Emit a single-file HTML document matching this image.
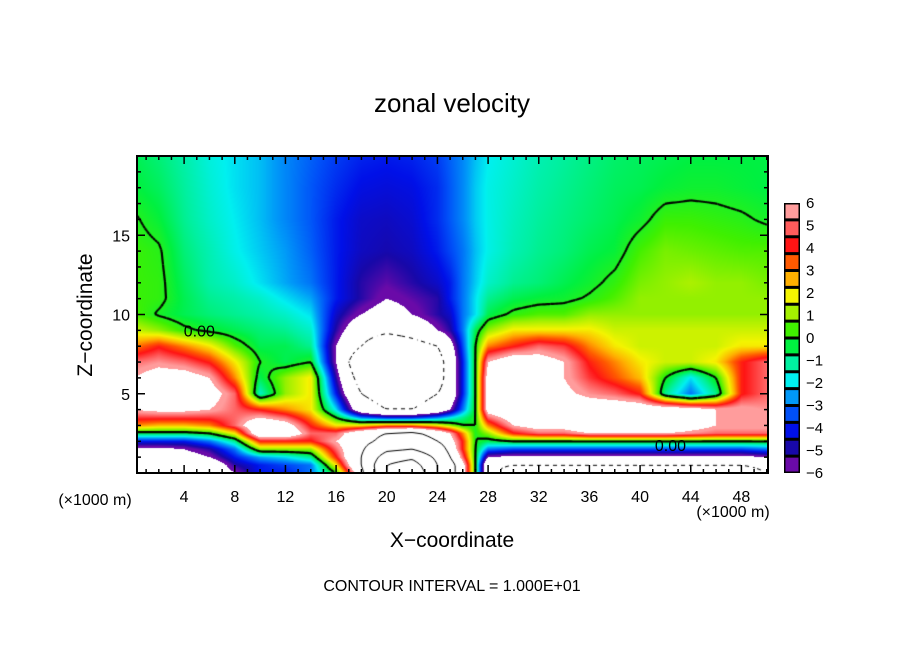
<!DOCTYPE html>
<html><head><meta charset="utf-8"><style>
html,body{margin:0;padding:0;background:#fff;width:904px;height:654px;overflow:hidden}
#wrap{position:relative;width:904px;height:654px}
canvas{position:absolute;left:0;top:0}
svg{position:absolute;left:0;top:0}
text{font-family:"Liberation Sans",sans-serif;fill:#000}
</style></head><body>
<div id="wrap">
<canvas id="cv" width="904" height="654"></canvas>
<svg id="sv" width="904" height="654">
<text x="452" y="112" font-size="26" text-anchor="middle">zonal velocity</text>
<text x="452" y="547" font-size="21" text-anchor="middle">X−coordinate</text>
<text transform="translate(92,315) rotate(-90)" font-size="21" text-anchor="middle">Z−coordinate</text>
<text x="95" y="505" font-size="16" text-anchor="middle">(×1000 m)</text>
<text x="733" y="517" font-size="16" text-anchor="middle">(×1000 m)</text>
<text x="452" y="591" font-size="16" text-anchor="middle">CONTOUR INTERVAL = 1.000E+01</text>
<g id="ticks"></g>
<g id="cbar"></g>
</svg>
</div>
<script>
const xs=[0,2,4,6,8,10,12,14,16,18,20,22,24,25,26,27,28,30,32,34,36,38,40,42,44,46,48,50];
const zs=[0,0.5,1,1.5,2,2.5,3,3.5,4,5,6,7,8,9,10,11,12,14,16,18,20];
const u=[
[-8,-8,-8,-8,-6,-4,-4,-3,0,8,30,40,20,12,7,0,-9,-12,-12,-12,-12,-12,-12,-12,-12,-12,-12,-10],
[-8,-8,-8,-8,-5,-4,-3.5,-3,2,10,30,35,20,12,7,0,-9,-10,-10,-10,-10,-10,-10,-10,-10,-10,-10,-9],
[-7,-7,-7,-6,-4,-2.5,-2,-1,4,10,25,28,18,10,5,0,-6,-6.5,-6.5,-6.5,-6.5,-6.5,-6.5,-6.5,-6.5,-6.5,-6.5,-6],
[-6.5,-6.5,-6,-5,-3,1,1,1,5,9,18,20,14,8,4,0,-3,-3.5,-3.5,-3.5,-3.5,-3.5,-3.5,-3.5,-3.5,-3.5,-3.5,-3],
[-4,-4,-4,-3,-1,4,4,4,6,8,12,14,10,7,4,0,-0.5,0,0,0,0,0,0,0,0,0,0,0],
[-0.5,-0.5,-0.5,0,2,8,8,5,5,8,10,11,8,6,3,0,1,4,5,5,6,6,6,6,5.5,5,5,5],
[3,2.5,2.5,3,5,8,7,4,2,2,3,3,2,1,0,0,3,6,7,7,8,8,8,8,7,6,6,6],
[4.5,4.5,4.5,4.5,5,6,5,3,0,-3,-4,-4,-3,-2,-1,0,5,7,8,8,8,8,8,8,7,6,6,6],
[6,6.5,6.5,6,5,4,3,2,-2,-8,-10,-10,-8,-6,-3,0,7,8,8,8,7.5,7.5,7.5,7.5,7,6,6,5.5],
[7,8,8,7,5,-1.5,1,2,-4,-10,-12,-12,-10,-8,-4,0,7,9,8,6.5,5.5,5,4,-1,-3,-1,4,5],
[6,7,7,6,3,-0.5,1,2,-5,-12,-15,-15,-12,-8,-4,0,7,9,8,6,4.5,3.5,2.5,0,-2,0,4,5],
[5,5.5,5,4,2,0,-0.5,0,-6,-14,-18,-16,-12,-8,-4,0,6,7.5,7,6,4,3,2,1.5,1.5,2,4,5],
[3,4,3,2,0.5,-0.5,-0.5,-1,-6,-10,-14,-12,-10,-7,-3.5,0,3,4,5,4.5,3,2,1.5,1.5,1.5,1.5,2,2],
[1.5,1,0.2,-0.2,-0.5,-0.8,-1,-1.5,-5,-8,-9,-8,-6,-5,-3,-0.5,1,2,2,2,2,1.5,1.5,1.5,1.5,1.5,1.5,1.5],
[0.5,-0.1,-0.5,-0.8,-1,-1.2,-1.5,-2,-4.5,-6,-7,-6,-5,-4.5,-3,-2,-0.5,0.2,0.5,0.5,1,1,1,1,1,1,1,1],
[0.3,0.2,-0.5,-1,-1.2,-1.5,-2,-2.5,-4,-5,-6,-5.5,-5,-4,-3,-2,-1,-0.5,-0.3,-0.2,0.1,0.5,1,1,1,1,1,1],
[0.3,0.2,-0.6,-1.2,-1.5,-2,-2.5,-3,-4,-5,-5.5,-5,-4.5,-4,-3,-2.2,-1.5,-1,-0.8,-0.5,-0.2,0.2,0.8,1,1.2,1,1,0.8],
[0.3,0.1,-0.8,-1.3,-1.8,-2.2,-2.6,-3.2,-4,-4.6,-4.8,-4.6,-4,-3.5,-3,-2.3,-1.8,-1.3,-1,-0.8,-0.5,-0.3,0.4,0.8,0.7,0.6,0.5,0.5],
[0.1,-0.3,-1,-1.5,-1.9,-2.3,-2.8,-3.3,-4,-4.5,-4.6,-4.4,-3.8,-3.3,-2.8,-2.2,-1.8,-1.4,-1.1,-0.9,-0.7,-0.5,-0.2,0.3,0.3,0.2,0.1,-0.1],
[-0.3,-0.6,-1.1,-1.6,-2,-2.3,-2.8,-3.3,-3.8,-4.2,-4.3,-4.2,-3.8,-3.3,-2.8,-2.2,-1.8,-1.5,-1.2,-1,-0.8,-0.6,-0.5,-0.3,-0.2,-0.2,-0.3,-0.4],
[-0.5,-0.8,-1.2,-1.7,-2,-2.3,-2.8,-3.2,-3.6,-3.9,-4,-3.9,-3.6,-3.2,-2.8,-2.3,-1.9,-1.6,-1.3,-1.1,-0.9,-0.7,-0.6,-0.5,-0.4,-0.4,-0.4,-0.4]
];
const cbColors=["#ff9c9c","#ff5c5c","#ff1414","#ff5a00","#ffb000","#f4f400","#a4f000","#40f000","#00f040","#00f0a0","#00f0f0","#0098f8","#0050f8","#0010e8","#1808a8","#6a0aa8"];
const cbLabels=[6,5,4,3,2,1,0,-1,-2,-3,-4,-5,-6];
const xTickLabels=[4,8,12,16,20,24,28,32,36,40,44,48];
const zTickLabels=[5,10,15];
const contourLevels=[-20,-10,0,10,20,30];

const L=137,R=768,T=156,B=473,X0=0.28,X1=50.1,Z0=0,Z1=20;
function sx(x){return L+(x-X0)*(R-L)/(X1-X0);}
function sz(z){return B-(z-Z0)*(B-T)/(Z1-Z0);}
function ix(px){return X0+(px-L)*(X1-X0)/(R-L);}
function iz(py){return Z0+(B-py)*(Z1-Z0)/(B-T);}
function seg(a,v){let i=0;while(i<a.length-2&&v>a[i+1])i++;let t=(v-a[i])/(a[i+1]-a[i]);t=Math.max(0,Math.min(1,t));return [i,t];}
function val(x,z){const [i,tx]=seg(xs,x),[j,tz]=seg(zs,z);
 const a=u[j][i],b=u[j][i+1],c=u[j+1][i],d=u[j+1][i+1];
 return (a*(1-tx)+b*tx)*(1-tz)+(c*(1-tx)+d*tx)*tz;}
const rgb=cbColors.map(h=>[parseInt(h.substr(1,2),16),parseInt(h.substr(3,2),16),parseInt(h.substr(5,2),16)]);
function col(v){if(v>6||v<-6)return [255,255,255];
 let p=(6-v)/12*16-0.5;p=Math.max(0,Math.min(15,p));const i=Math.min(14,Math.floor(p)),t=p-i;
 return [0,1,2].map(k=>Math.round(rgb[i][k]*(1-t)+rgb[i+1][k]*t));}

const cv=document.getElementById('cv'),ctx=cv.getContext('2d');
const W=R-L,H=B-T,img=ctx.createImageData(W,H);
for(let py=0;py<H;py++)for(let px=0;px<W;px++){
 const c=col(val(ix(L+px+0.5),iz(T+py+0.5)));const o=(py*W+px)*4;
 img.data[o]=c[0];img.data[o+1]=c[1];img.data[o+2]=c[2];img.data[o+3]=255;}
ctx.putImageData(img,L,T);

const st=2,nx=Math.floor(W/st)+1,ny=Math.floor(H/st)+1;const g=[];
for(let j=0;j<ny;j++){g[j]=[];for(let i=0;i<nx;i++)g[j][i]=val(ix(L+i*st),iz(T+j*st));}
ctx.save();ctx.beginPath();ctx.rect(L,T,W,H);ctx.clip();
contourLevels.forEach(lv=>{
 ctx.strokeStyle='#000';ctx.lineWidth=lv===0?2.2:1;
 for(let j=0;j<ny-1;j++)for(let i=0;i<nx-1;i++){
  if(lv<0&&((i>>1)+(j>>1))%2===0)continue;
  const v=[g[j][i],g[j][i+1],g[j+1][i+1],g[j+1][i]];
  const p=[[i,j],[i+1,j],[i+1,j+1],[i,j+1]];const pts=[];
  for(let e=0;e<4;e++){const a=v[e],b=v[(e+1)%4];
   if((a<lv)!==(b<lv)){const t=(lv-a)/(b-a);const pa=p[e],pb=p[(e+1)%4];
    pts.push([L+(pa[0]+(pb[0]-pa[0])*t)*st,T+(pa[1]+(pb[1]-pa[1])*t)*st]);}}
  ctx.beginPath();
  for(let k=0;k+1<pts.length;k+=2){ctx.moveTo(pts[k][0],pts[k][1]);ctx.lineTo(pts[k+1][0],pts[k+1][1]);}
  ctx.stroke();}
});
ctx.restore();

const NS='http://www.w3.org/2000/svg';
function mk(tag,attrs,parent){const e=document.createElementNS(NS,tag);for(const k in attrs)e.setAttribute(k,attrs[k]);parent.appendChild(e);return e;}
const tk=document.getElementById('ticks');
let lab=mk('text',{x:sx(5.2),y:sz(8.6),'font-size':16,'text-anchor':'middle'},tk);lab.textContent='0.00';


lab=mk('text',{x:sx(42.4),y:sz(1.4),'font-size':16,'text-anchor':'middle'},tk);lab.textContent='0.00';


const fr=mk('rect',{x:L,y:T,width:W,height:H,fill:'none',stroke:'#000','stroke-width':2},tk);


for(let x=1;x<=50;x++){const len=x%4===0?8:4;const X=sx(x);if(X>R-1)continue;
 mk('line',{x1:X,y1:B,x2:X,y2:B-len,stroke:'#000','stroke-width':1.5},tk);
 mk('line',{x1:X,y1:T,x2:X,y2:T+len,stroke:'#000','stroke-width':1.5},tk);}
xTickLabels.forEach(x=>{const t=mk('text',{x:sx(x),y:B+29,'font-size':16,'text-anchor':'middle'},tk);t.textContent=x;
 
 });
for(let z=1;z<20;z++){const len=z%5===0?8:4;const Y=sz(z);
 mk('line',{x1:L,y1:Y,x2:L+len,y2:Y,stroke:'#000','stroke-width':1.5},tk);
 mk('line',{x1:R,y1:Y,x2:R-len,y2:Y,stroke:'#000','stroke-width':1.5},tk);}
zTickLabels.forEach(z=>{const t=mk('text',{x:L-7,y:sz(z)+6,'font-size':16,'text-anchor':'end'},tk);t.textContent=z;
 
 });
const cb=document.getElementById('cbar');
const cbT=203,cbB=473,cbL=784,cbW=16,bh=(cbB-cbT)/cbColors.length;
mk('rect',{x:cbL,y:cbT,width:cbW,height:cbB-cbT,fill:'#000'},cb);
cbColors.forEach((c,k)=>{const r=mk('rect',{x:cbL+1.5,y:cbT+k*bh+1.5,width:cbW-3,height:bh-3,fill:c},cb);
 
 });
cbLabels.forEach((v,k)=>{const t=mk('text',{x:cbL+cbW+6,y:cbT+k*(cbB-cbT)/12+5,'font-size':15},cb);t.textContent=String(v).replace('-','−');
 
 });
</script>
</body></html>
